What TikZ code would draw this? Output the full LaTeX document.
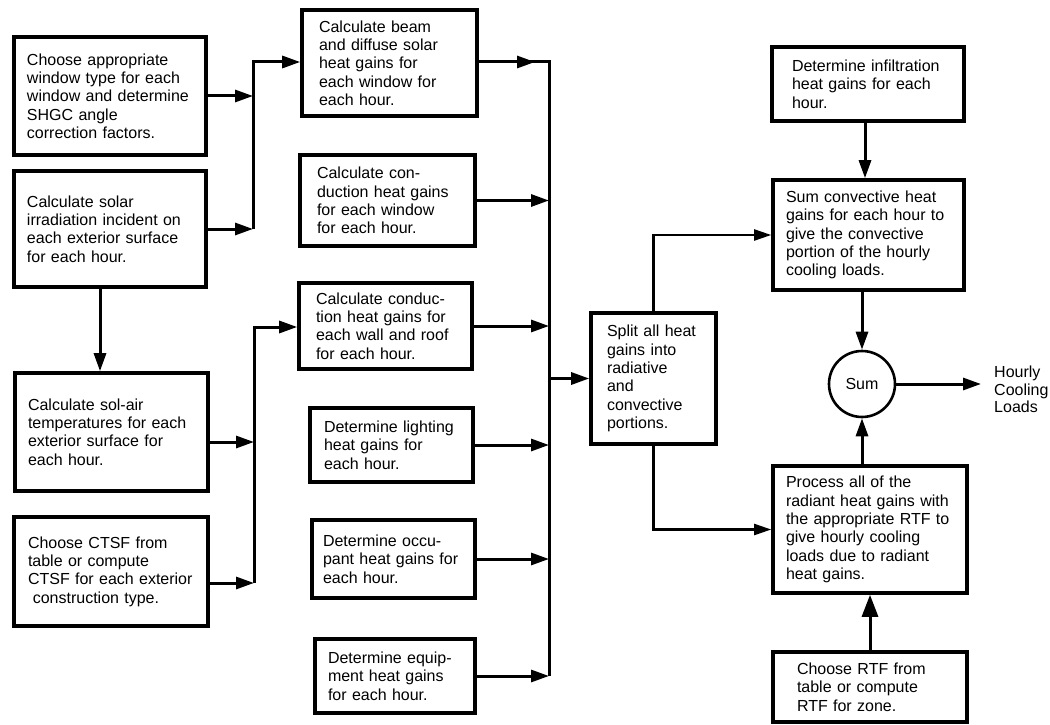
\documentclass[tikz,border=0pt]{standalone}
\usepackage{fontspec}
\setmainfont{Liberation Sans}
\usepackage{tikz}
\usetikzlibrary{arrows.meta,positioning,calc}

\tikzset{
  box/.style={draw, line width=3.6pt, align=left, inner ysep=2pt, font=\fontsize{16}{18.3}\selectfont},
  flow/.style={line width=3pt, -{Triangle[length=18pt,width=12pt]}},
  link/.style={line width=3pt},
  thinflow/.style={line width=2.2pt, -{Triangle[length=17pt,width=11pt]}}
}

\begin{document}
\begin{tikzpicture}[x=1pt, y=-1pt]
    \useasboundingbox (0,0) rectangle (1050,725);

    % Left column: windows, solar, sol-air, CTSF
    \node[box, minimum width=192pt, minimum height=118pt, text width=166pt, inner xsep=13pt] (choosewin) at (110,96)
        {Choose appropriate\\window type for each\\window and determine\\SHGC angle\\correction factors.};
    \node[box, minimum width=192pt, minimum height=116pt, text width=166pt, inner xsep=13pt] (solarirr) at (110,229)
        {Calculate solar\\irradiation incident on\\each exterior surface\\for each hour.};
    \node[box, minimum width=193pt, minimum height=118pt, text width=167pt, inner xsep=13pt] (solair) at (111.5,432)
        {Calculate sol-air\\temperatures for each\\exterior surface for\\each hour.};
    \node[box, minimum width=194pt, minimum height=109pt, text width=166pt, inner xsep=14pt] (ctsf) at (111,571.5)
        {Choose CTSF from\\table or compute\\CTSF for each exterior\\\hspace*{.3em}construction type.};

    % Middle column: heat gains
    \node[box, minimum width=175pt, minimum height=106pt, text width=141pt, inner xsep=17pt] (beam) at (389.5,63)
        {Calculate beam\\and diffuse solar\\heat gains for\\each window for\\each hour.};
    \node[box, minimum width=175pt, minimum height=91pt, text width=141pt, inner xsep=17pt] (condwin) at (387.5,200.5)
        {Calculate con-\\duction heat gains\\for each window\\for each hour.};
    \node[box, minimum width=173pt, minimum height=86pt, text width=139pt, inner xsep=17pt] (condwall) at (385.5,326)
        {Calculate conduc-\\tion heat gains for\\each wall and roof\\for each hour.};
    \node[box, minimum width=163pt, minimum height=74pt, text width=135pt, inner xsep=14pt] (lighting) at (391.5,445)
        {Determine lighting\\heat gains for\\each hour.};
    \node[box, minimum width=163pt, minimum height=78pt, text width=141pt, inner xsep=11pt] (occupant) at (393.5,559)
        {Determine occu-\\pant heat gains for\\each hour.};
    \node[box, minimum width=160pt, minimum height=74pt, text width=134pt, inner xsep=13pt] (equip) at (395,676)
        {Determine equip-\\ment heat gains\\for each hour.};

    % Split
    \node[box, minimum width=125pt, minimum height=131pt, text width=93pt, inner xsep=16pt] (split) at (653.5,378.5)
        {Split all heat\\gains into\\radiative\\and\\convective\\portions.};

    % Right column
    \node[box, minimum width=192pt, minimum height=74pt, text width=152pt, inner xsep=20pt] (infil) at (868,84)
        {Determine infiltration\\heat gains for each\\hour.};
    \node[box, minimum width=191pt, minimum height=110pt, text width=165pt, inner xsep=13pt] (conv) at (868.5,235)
        {Sum convective heat\\gains for each hour to\\give the convective\\portion of the hourly\\cooling loads.};
    \node[draw, circle, line width=2.6pt, minimum size=66pt, inner sep=0pt, font=\fontsize{16}{18.3}\selectfont] (sumnode) at (862,384) {Sum};
    \node[box, minimum width=194pt, minimum height=127pt, text width=168pt, inner xsep=13pt] (radiant) at (870,529.5)
        {Process all of the\\radiant heat gains with\\the appropriate RTF to\\give hourly cooling\\loads due to radiant\\heat gains.};
    \node[box, minimum width=194pt, minimum height=70pt, text width=146pt, inner xsep=24pt] (rtf) at (870,687)
        {Choose RTF from\\table or compute\\RTF for zone.};
    \node[anchor=west, align=left, inner sep=0pt, font=\fontsize{16}{17.5}\selectfont] (hourly) at (994,389.5)
        {Hourly\\Cooling\\Loads};

    % Joints and bus
    \coordinate (jtop) at (253,62);
    \coordinate (jlow) at (254,327);
    \coordinate (bustop) at (549,62);
    \coordinate (busbot) at (549,676);

    % Into the beam box
    \draw[flow] (choosewin.east) -- (choosewin.east -| jtop);
    \draw[flow] (solarirr.east) -- (solarirr.east -| jtop);
    \draw[flow] (solarirr.east -| jtop) -- (jtop) -- (beam.west |- jtop);
    \draw[flow] ([xshift=-10pt]solarirr.south) -- ([xshift=-10pt]solarirr.south |- solair.north);

    % Into the wall and roof box
    \draw[flow] ([yshift=-10pt]solair.east) -- ([yshift=-10pt]solair.east -| jlow);
    \draw[flow] ([yshift=-11.5pt]ctsf.east) -- ([yshift=-11.5pt]ctsf.east -| jlow);
    \draw[flow] ([yshift=-11.5pt]ctsf.east -| jlow) -- (jlow) -- (condwall.west |- jlow);

    % Heat gains onto the bus
    \draw[link] (beam.east |- bustop) -- (bustop) -- (busbot);
    \draw[flow] (beam.east |- bustop) -- ([xshift=-14pt]bustop);
    \foreach \n in {condwin,condwall,lighting,occupant,equip}
        \draw[flow] (\n.east) -- (\n.east -| bustop);
    \draw[flow] (bustop |- split.west) -- (split.west);

    % Split into convective and radiant parts
    \draw[thinflow] (split.north) -- (split.north |- conv.west) -- (conv.west);
    \draw[thinflow] (split.south) -- (split.south |- radiant.west) -- (radiant.west);

    % Right column flow
    \draw[flow] ([xshift=-3pt]infil.south) -- ([xshift=-3pt]infil.south |- conv.north);
    \draw[flow] (conv.south -| sumnode) -- (sumnode.north);
    \draw[flow] (radiant.north -| sumnode) -- (sumnode.south);
    \draw[line width=3pt, -{Triangle[length=22pt,width=16pt]}] (rtf.north) -- (rtf.north |- radiant.south);
    \draw[flow] (sumnode.east) -- ([xshift=-13pt]sumnode.east -| hourly.west);
\end{tikzpicture}
\end{document}
